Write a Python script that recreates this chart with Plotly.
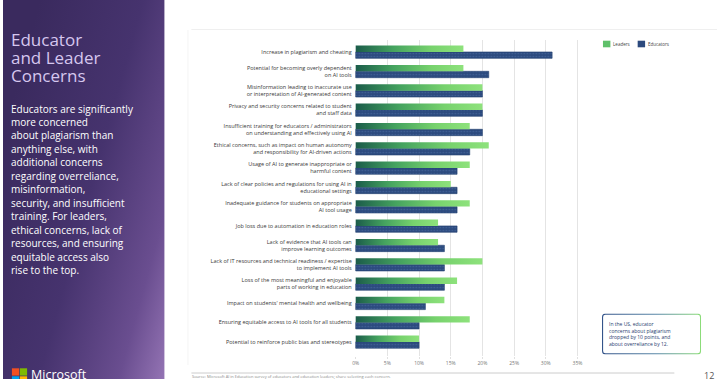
import base64
import plotly.graph_objects as go

# ---------------- data ----------------
categories = [
    "Increase in plagiarism and cheating",
    "Potential for becoming overly dependent<br>on AI tools",
    "Misinformation leading to inaccurate use<br>or interpretation of AI-generated content",
    "Privacy and security concerns related to student<br>and staff data",
    "Insufficient training for educators / administrators<br>on understanding and effectively using AI",
    "Ethical concerns, such as impact on human autonomy<br>and responsibility for AI-driven actions",
    "Usage of AI to generate inappropriate or<br>harmful content",
    "Lack of clear policies and regulations for using AI in<br>educational settings",
    "Inadequate guidance for students on appropriate<br>AI tool usage",
    "Job loss due to automation in education roles",
    "Lack of evidence that AI tools can<br>improve learning outcomes",
    "Lack of IT resources and technical readiness / expertise<br>to implement AI tools",
    "Loss of the most meaningful and enjoyable<br>parts of working in education",
    "Impact on students' mental health and wellbeing",
    "Ensuring equitable access to AI tools for all students",
    "Potential to reinforce public bias and stereotypes",
]
leaders = [17, 17, 20, 20, 18, 21, 18, 15, 18, 13, 13, 20, 16, 14, 18, 10]
educators = [31, 21, 20, 20, 20, 18, 16, 16, 16, 16, 14, 14, 14, 11, 10, 10]
x_ticks = [0, 5, 10, 15, 20, 25, 30, 35]
x_tick_labels = [f"{v}%" for v in x_ticks]
series_names = ["Leaders", "Educators"]

title_lines = ["Educator", "and Leader", "Concerns"]
body_lines = [
    "Educators are significantly",
    "more concerned",
    "about plagiarism than",
    "anything else, with",
    "additional concerns",
    "regarding overreliance,",
    "misinformation,",
    "security, and insufficient",
    "training. For leaders,",
    "ethical concerns, lack of",
    "resources, and ensuring",
    "equitable access also",
    "rise to the top.",
]
callout_lines = [
    "In the US, educator",
    "concerns about plagiarism",
    "dropped by 10 points, and",
    "about overreliance by 12.",
]

# ---------------- helpers ----------------
W, H = 720, 379
FONT = "Open Sans"


def px(x):
    return x / W


def py(y):
    return 1 - y / H


def svg_uri(svg):
    return "data:image/svg+xml;base64," + base64.b64encode(svg.encode()).decode()


BAR_W = 0.33
idx = list(range(len(categories)))

fig = go.Figure()

# Leaders: gradient bars (each drawn from its value on the chart axes)
green_scale = [[0, "#1b5c4a"], [0.35, "#45a35f"], [0.7, "#77d26d"], [1, "#8ee27c"]]
for i, v in zip(idx, leaders):
    fig.add_trace(go.Scatter(
        x=[0, v, v, 0, 0],
        y=[i - BAR_W, i - BAR_W, i, i, i - BAR_W],
        mode="lines", fill="toself",
        line=dict(width=0),
        fillgradient=dict(type="horizontal", colorscale=green_scale),
        name=series_names[0], showlegend=False, hoverinfo="skip",
    ))

# Educators
fig.add_trace(go.Bar(
    x=educators, y=idx, orientation="h", width=BAR_W, offset=0,
    name=series_names[1], showlegend=False,
    marker=dict(color="#2c4a7e", line=dict(color="#22406f", width=0.6),
                pattern=dict(shape=".", fgcolor="#5577ad", size=3, solidity=0.25)),
))

fig.update_layout(
    width=W, height=H, autosize=False,
    margin=dict(l=0, r=0, t=0, b=0),
    paper_bgcolor="white", plot_bgcolor="white",
    font=dict(family=FONT),
    xaxis=dict(
        domain=[px(354.7), px(581.2)], range=[-0.15, 35.3],
        tickvals=x_ticks, ticktext=x_tick_labels,
        showgrid=True, gridcolor="#e4e4e4", gridwidth=1, zeroline=False,
        ticks="outside", ticklen=2, tickcolor="#e0e0e0",
        tickfont=dict(size=5, color="#777777", family=FONT), showline=False,
    ),
    yaxis=dict(
        domain=[py(356), py(40)], range=[15.73, -0.62],
        tickvals=idx, ticktext=categories,
        showgrid=False, zeroline=False, ticks="", showline=False,
        tickfont=dict(size=5.5, color="#3a3a3a", family=FONT),
        ticklabelstandoff=2,
    ),
    bargap=0.3,
)

# ---------------- decorations ----------------
panel_svg = (
    '<svg xmlns="http://www.w3.org/2000/svg" width="163" height="379" viewBox="0 0 163 379" '
    'preserveAspectRatio="none"><defs><linearGradient id="g" x1="0" y1="0.35" x2="1" y2="1">'
    '<stop offset="0" stop-color="#3a2a5e"/><stop offset="0.45" stop-color="#46336e"/>'
    '<stop offset="0.8" stop-color="#6a4e90"/><stop offset="1" stop-color="#9474b4"/>'
    '</linearGradient></defs><rect width="163" height="379" fill="url(#g)"/></svg>'
)
box_svg = (
    '<svg xmlns="http://www.w3.org/2000/svg" width="100" height="41" viewBox="0 0 100 41" '
    'preserveAspectRatio="none"><defs><linearGradient id="b" x1="0" y1="0" x2="1" y2="0">'
    '<stop offset="0" stop-color="#34548a"/><stop offset="0.55" stop-color="#5a88a8"/>'
    '<stop offset="1" stop-color="#8cdc7a"/></linearGradient></defs>'
    '<rect x="0.6" y="0.6" width="98.8" height="39.8" rx="3" ry="3" fill="white" '
    'stroke="url(#b)" stroke-width="1.1"/></svg>'
)
fig.add_layout_image(dict(source=svg_uri(panel_svg), xref="paper", yref="paper",
                          x=0, y=1, sizex=px(163), sizey=1, sizing="stretch",
                          xanchor="left", yanchor="top", layer="below"))
fig.add_layout_image(dict(source=svg_uri(box_svg), xref="paper", yref="paper",
                          x=px(604), y=py(313.5), sizex=px(100), sizey=41 / H,
                          sizing="stretch", xanchor="left", yanchor="top", layer="above"))

shapes = []
# faint frame lines
shapes.append(dict(type="line", xref="paper", yref="paper", x0=px(190), x1=px(720),
                   y0=py(29.5), y1=py(29.5), line=dict(color="#efefef", width=1)))
shapes.append(dict(type="line", xref="paper", yref="paper", x0=px(186.5), x1=px(186.5),
                   y0=py(30), y1=py(365), line=dict(color="#f4f4f4", width=1)))
# footer line
shapes.append(dict(type="line", xref="paper", yref="paper", x0=px(190), x1=px(677),
                   y0=py(373), y1=py(373), line=dict(color="#cccccc", width=1)))
# legend swatches
shapes.append(dict(type="rect", xref="paper", yref="paper", x0=px(605), x1=px(612.5),
                   y0=py(47.3), y1=py(40.7), fillcolor="#5fc06a", line=dict(width=0)))
shapes.append(dict(type="rect", xref="paper", yref="paper", x0=px(640), x1=px(647.5),
                   y0=py(47.3), y1=py(40.7), fillcolor="#2c4a7e", line=dict(width=0)))
# Microsoft logo squares
logo = [(9, 368.3, "#f25022"), (17, 368.3, "#7fba00"), (9, 376.3, "#00a4ef"), (17, 376.3, "#ffb900")]
for x0, y0, c in logo:
    shapes.append(dict(type="rect", xref="paper", yref="paper", x0=px(x0), x1=px(x0 + 7.3),
                       y0=py(y0 + 7.3), y1=py(y0), fillcolor=c, line=dict(width=0)))
fig.update_layout(shapes=shapes)

ann = []
for k, t in enumerate(title_lines):
    ann.append(dict(text=t, x=px(6.5), y=py(39.5 + 18 * k), xref="paper", yref="paper",
                    xanchor="left", yanchor="middle", showarrow=False,
                    font=dict(size=17, color="#d6c7ef", family=FONT)))
for k, t in enumerate(body_lines):
    ann.append(dict(text=t, x=px(6.5), y=py(108.5 + 13.46 * k), xref="paper", yref="paper",
                    xanchor="left", yanchor="middle", showarrow=False,
                    font=dict(size=10, color="#ffffff", family=FONT)))
ann.append(dict(text="Microsoft", x=px(26.5), y=py(374.5), xref="paper", yref="paper",
                xanchor="left", yanchor="middle", showarrow=False,
                font=dict(size=12.5, color="#ffffff", family=FONT)))
# legend labels
ann.append(dict(text=series_names[0], x=px(613.5), y=py(44), xref="paper", yref="paper",
                xanchor="left", yanchor="middle", showarrow=False,
                font=dict(size=4.5, color="#444444", family=FONT)))
ann.append(dict(text=series_names[1], x=px(648.5), y=py(44), xref="paper", yref="paper",
                xanchor="left", yanchor="middle", showarrow=False,
                font=dict(size=4.5, color="#444444", family=FONT)))
# callout text (single block)
ann.append(dict(text="<br>".join(callout_lines), x=px(609.5), y=py(319), xref="paper", yref="paper",
                xanchor="left", yanchor="top", align="left", showarrow=False,
                font=dict(size=5, color="#283c6e", family=FONT)))
# footer
ann.append(dict(text="Source: Microsoft AI in Education survey of educators and education leaders; share selecting each concern.",
                x=px(188.5), y=py(376.5), xref="paper", yref="paper", xanchor="left", yanchor="middle",
                showarrow=False, font=dict(size=4, color="#8a8a8a", family=FONT)))
ann.append(dict(text="12", x=px(704.5), y=py(375), xref="paper", yref="paper", xanchor="left",
                yanchor="middle", showarrow=False, font=dict(size=9, color="#555555", family=FONT)))
fig.update_layout(annotations=ann)

fig.write_html(
    "out.html",
    config={"displayModeBar": False},
    post_script="document.body.style.margin='0px';document.body.style.overflow='hidden';",
)
